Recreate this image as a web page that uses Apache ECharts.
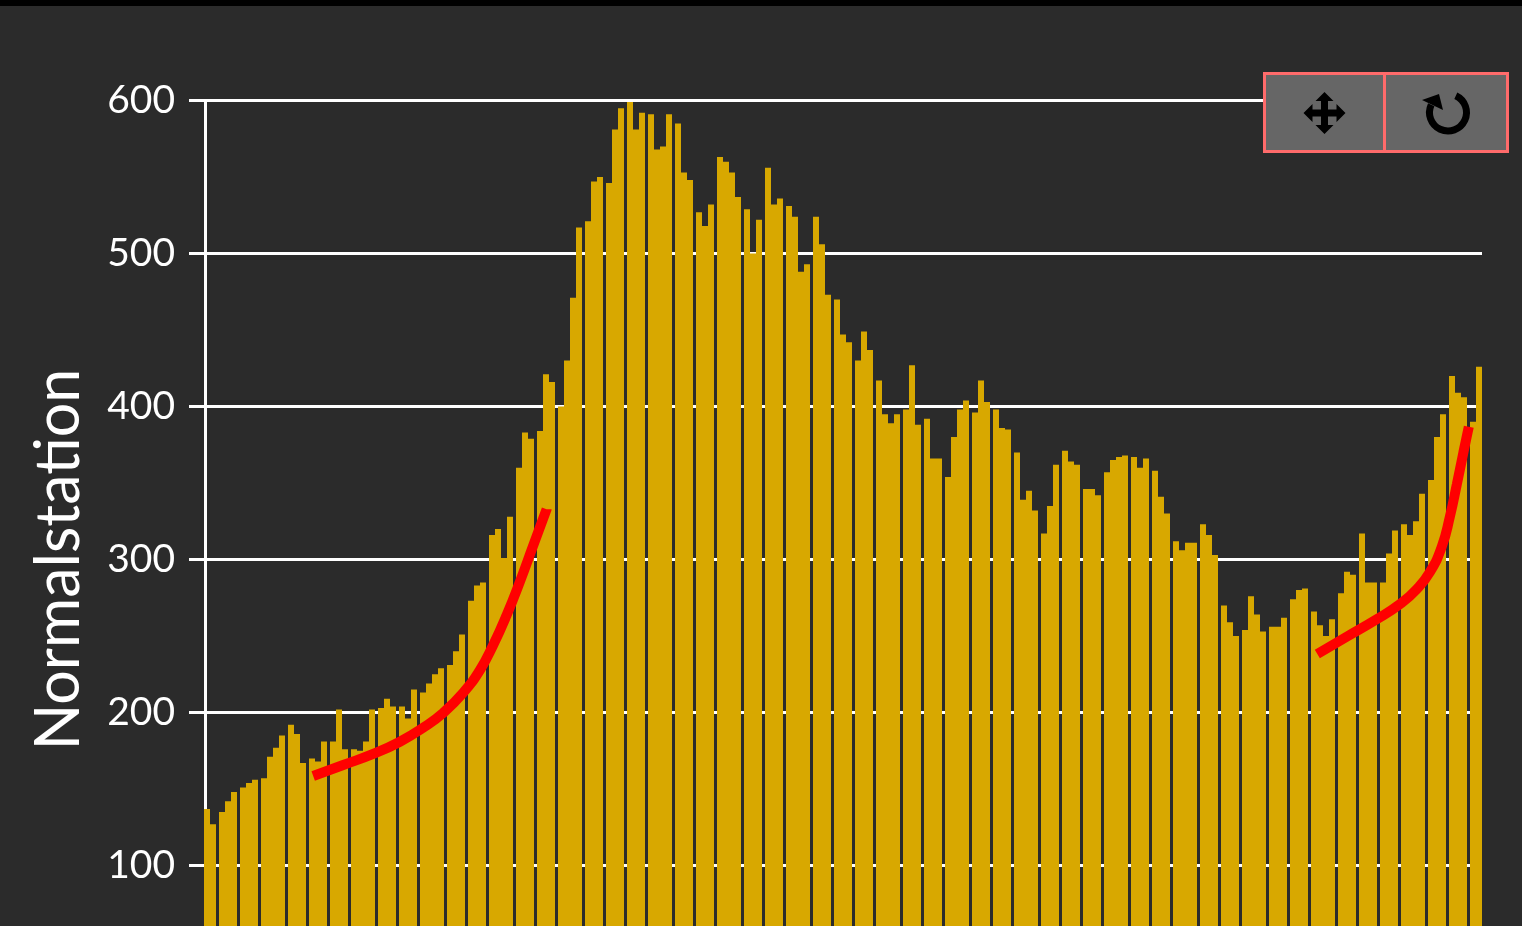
<!DOCTYPE html>
<html>
<head>
<meta charset="utf-8">
<title>Normalstation</title>
<script src="https://cdn.jsdelivr.net/npm/echarts@6/dist/echarts.min.js"></script>
<style>
  html, body { margin: 0; padding: 0; background: #2b2b2b; overflow: hidden; }
  #main { width: 1522px; height: 926px; }
</style>
</head>
<body>
<div id="main"></div>
<script>
// bar heights, left to right
var barValues = [
  137,127, 135,142,148, 151,154,156, 157,171,177,185, 192,186,167, 170,168,181,
  181,202,176, 176,175,181,202, 203,209,204, 204,196,215, 213,219,225,229,
  231,240,251, 273,283,285, 316,320,301,328, 360,383,379, 384,421,416,
  400,430,471,517, 521,547,550, 546,581,595, 599,581,592, 591,568,570,591,
  585,553,548, 527,518,532, 563,560,553,537, 529,500,522, 556,532,536,
  531,524,488,493, 524,506,473, 470,447,442, 430,449,437, 417,395,389,395,
  398,427,388, 392,366,366, 354,380,398,404, 396,417,403, 398,386,385,
  370,339,345,332, 317,335,362, 371,364,362, 346,346,342, 357,365,367,368,
  367,360,366, 358,341,330, 312,306,311,311, 323,316,303, 270,259,250,
  254,276,264,253, 256,256,262, 274,280,281, 266,257,250,261, 278,292,290,
  317,285,285, 285,304,319, 323,316,325,343, 352,380,395, 420,409,406, 390,426
];
// how many bars stand side by side before each narrow gap
var barGroups = [
  2,3,3,4,3,3,3,4,3,3,
  4,3,3, 4,3,3, 4,3,3,3, 4,3,3, 4,3,3, 4,3,3,3, 4,3,3, 4,3,3, 4,3,3,3,
  4,3,3, 4,3,3, 4,3,3, 4,3,3,3, 4,3,3, 2
];
// red curves: [slot, value]
var curveLeft = [
  [35.4,158.5],[45.4,165.7],[55.4,172.9],[64.3,180.9],[72.1,190.1],[78.8,199.9],[85.4,212.9],
  [91,227.8],[95.4,244.1],[99.9,263.7],[104.3,285.5],[108.8,309.5],[113.2,332.8]
];
var curveRight = [
  [370.1,238.2],[379.9,249.5],[389.9,260.9],[397.7,270.9],[403.2,280.5],[407.7,292],
  [411.6,308.4],[414.3,328],[416.6,349],[418.8,370],[420.6,386.8]
];
var yTicks = [0, 100, 200, 300, 400, 500, 600];

// one bar takes 2 slots, one gap takes 1
var barData = [];
var slot = 0, n = 0;
barGroups.forEach(function (size) {
  for (var i = 0; i < size; i++) {
    barData.push([slot, barValues[n]]);
    n++;
    slot += 2;
  }
  slot += 1;
});

var white = '#ffffff';
var chart = echarts.init(document.getElementById('main'), null, { renderer: 'canvas' });

chart.setOption({
  animation: false,
  backgroundColor: '#2b2b2b',
  grid: { left: 205, top: 100.5, width: 1277, height: 918, outerBoundsMode: 'none' },
  xAxis: { type: 'value', min: -2 / 3, max: 425, show: false },
  yAxis: {
    type: 'value',
    min: yTicks[0],
    max: yTicks[yTicks.length - 1],
    interval: 100,
    name: 'Normalstation',
    nameLocation: 'middle',
    nameRotate: 90,
    nameGap: 115,
    nameTextStyle: { color: white, fontSize: 61, fontFamily: 'Lato' },
    axisLine: { show: true, onZero: false, lineStyle: { color: white, width: 3 } },
    axisTick: { show: true, length: 16, lineStyle: { color: white, width: 3 } },
    axisLabel: {
      color: white, fontSize: 39, fontFamily: 'Lato', margin: 30, padding: [0, 0, 3, 0],
      formatter: function (v) { return v === 0 ? '' : String(v); }
    },
    splitLine: { show: true, lineStyle: { color: white, width: 3 } }
  },
  series: [
    {
      type: 'bar',
      data: barData,
      barWidth: 6,
      clip: false,
      itemStyle: { color: '#d8a800' }
    },
    {
      type: 'line',
      data: curveLeft,
      smooth: true,
      showSymbol: false,
      z: 5,
      lineStyle: { color: '#ff0000', width: 10, cap: 'butt' }
    },
    {
      type: 'line',
      data: curveRight,
      smooth: true,
      showSymbol: false,
      z: 5,
      lineStyle: { color: '#ff0000', width: 10, cap: 'butt' }
    }
  ],
  graphic: [
    { type: 'rect', shape: { x: 0, y: 0, width: 1522, height: 6 }, style: { fill: '#000000' }, z: 10 },
    // the two buttons top right
    {
      type: 'rect', z: 20,
      shape: { x: 1264.5, y: 73.5, width: 243, height: 78 },
      style: { fill: '#666666', stroke: '#ff6b6b', lineWidth: 3 }
    },
    {
      type: 'line', z: 21,
      shape: { x1: 1384.5, y1: 73, x2: 1384.5, y2: 152 },
      style: { stroke: '#ff6b6b', lineWidth: 3 }
    },
    {
      type: 'polygon', z: 22, x: 1324.5, y: 113,
      shape: {
        points: [[0,-21],[9,-12],[3.5,-12],[3.5,-3.5],[12,-3.5],[12,-9],[21,0],[12,9],[12,3.5],[3.5,3.5],[3.5,12],[9,12],
          [0,21],[-9,12],[-3.5,12],[-3.5,3.5],[-12,3.5],[-12,9],[-21,0],[-12,-9],[-12,-3.5],[-3.5,-3.5],[-3.5,-12],[-9,-12]]
      },
      style: { fill: '#000000' }
    },
    {
      type: 'arc', z: 22,
      shape: { cx: 1448, cy: 112.5, r: 18.5, startAngle: -65 * Math.PI / 180, endAngle: 205 * Math.PI / 180, clockwise: true },
      style: { stroke: '#000000', fill: null, lineWidth: 7 }
    },
    {
      type: 'polygon', z: 22,
      shape: { points: [[1422, 100], [1439, 94], [1443, 110]] },
      style: { fill: '#000000' }
    }
  ]
});
</script>
</body>
</html>
